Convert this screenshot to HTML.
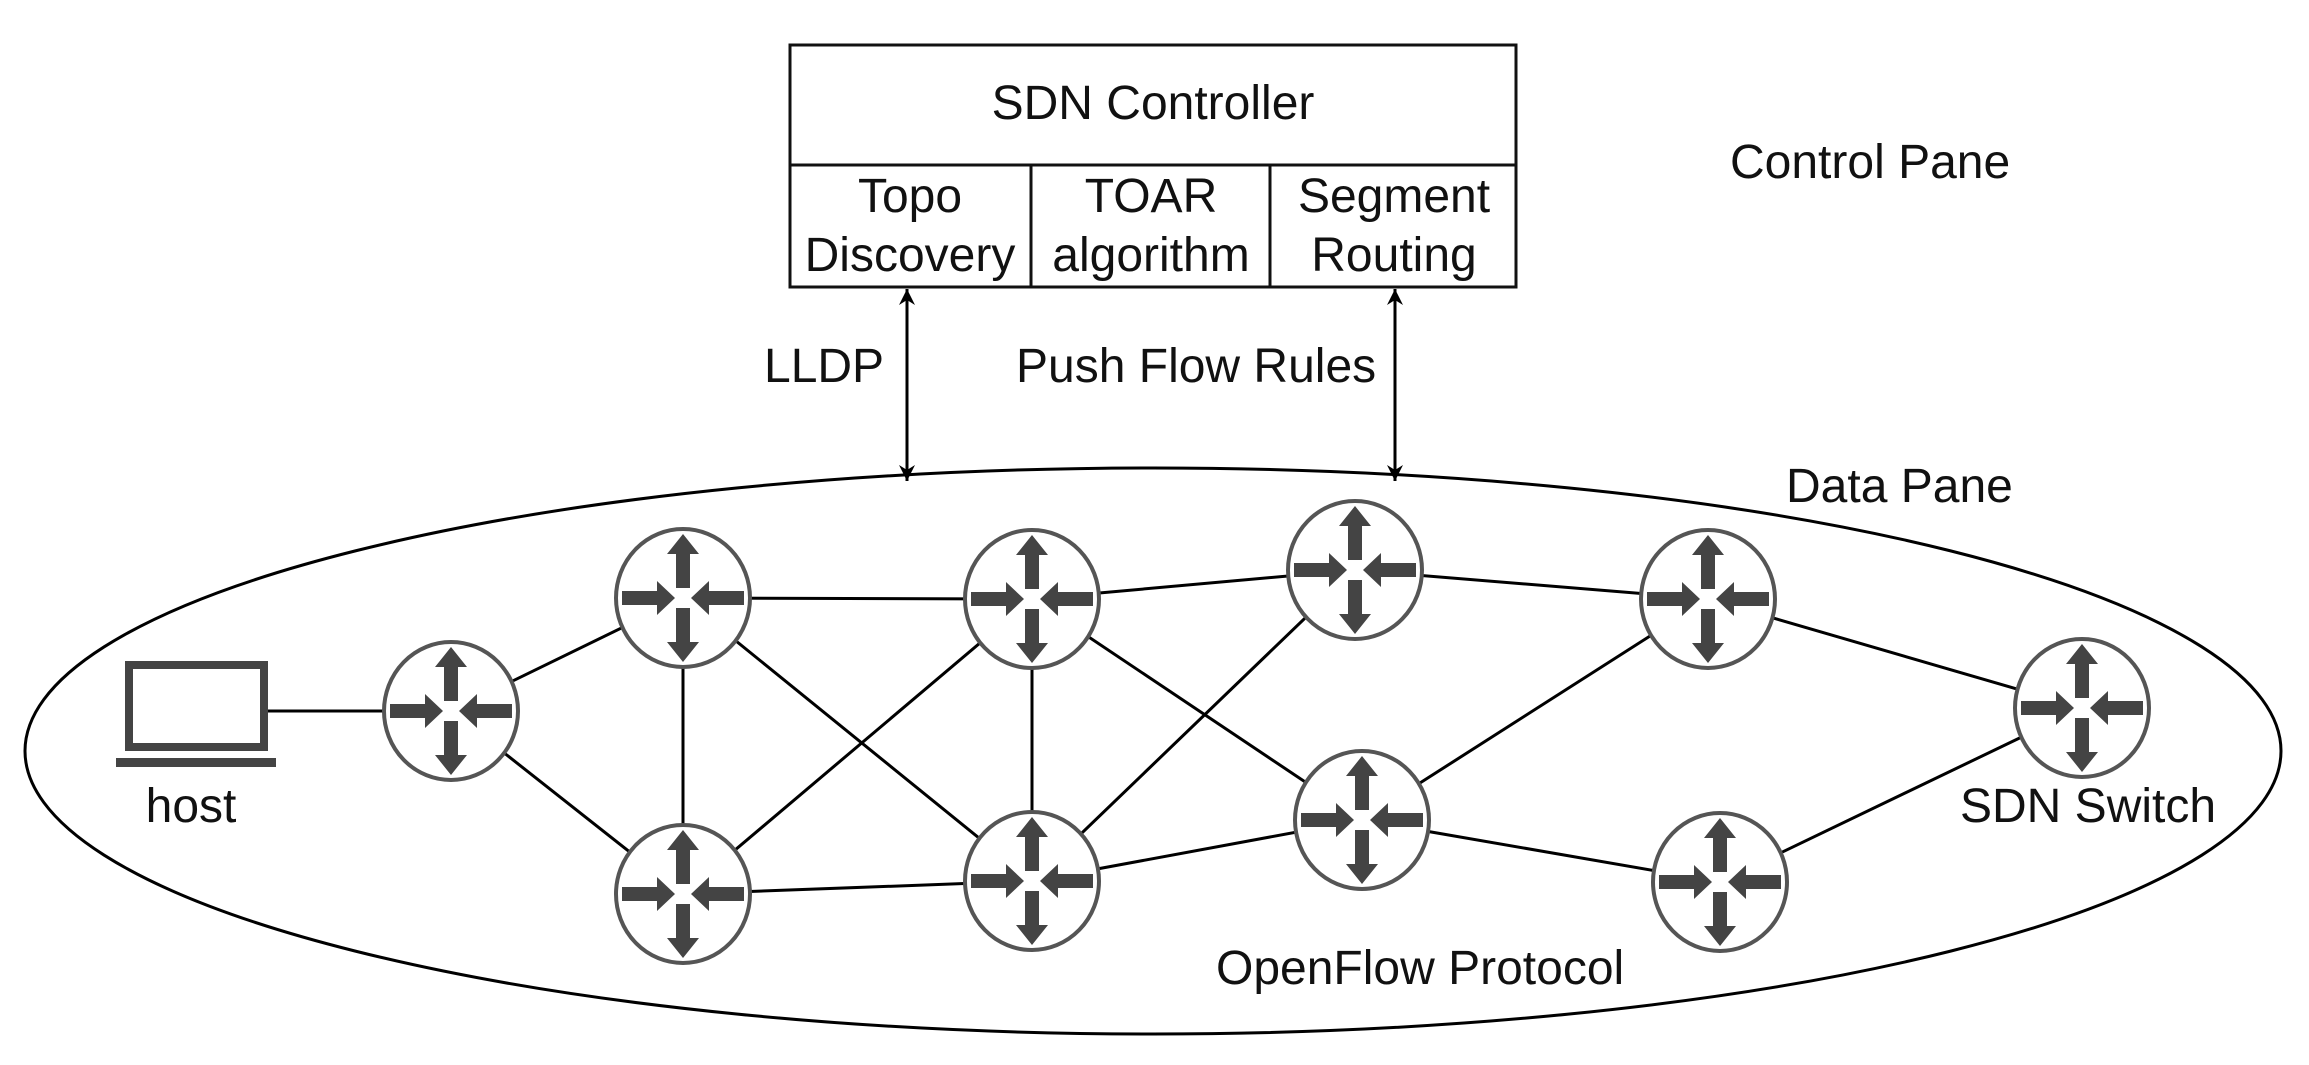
<!DOCTYPE html>
<html><head><meta charset="utf-8"><style>
html,body{margin:0;padding:0;background:#fff}
svg{display:block}
text{font-family:"Liberation Sans",sans-serif;font-size:48px;fill:#111}
</style></head><body>
<svg width="2309" height="1065" viewBox="0 0 2309 1065" xmlns="http://www.w3.org/2000/svg">
<defs>
<g id="r">
<ellipse cx="0" cy="0" rx="67" ry="69" fill="#fff" stroke="#555" stroke-width="4"/>
<g fill="#444">
<polygon points="-61,-7 -26,-7 -26,-17 -8,0 -26,17 -26,7 -61,7"/>
<polygon points="61,-7 26,-7 26,-17 8,0 26,17 26,7 61,7"/>
<polygon points="-7,-10 -7,-44 -16,-44 0,-64 16,-44 7,-44 7,-10"/>
<polygon points="-7,10 -7,44 -16,44 0,64 16,44 7,44 7,10"/>
</g>
</g>
<marker id="ah" markerWidth="18" markerHeight="16" refX="16" refY="8" orient="auto-start-reverse" markerUnits="userSpaceOnUse">
<path d="M0,0 L16,8 L0,16 L5,8 Z" fill="#000"/>
</marker>
</defs>
<rect x="790" y="45" width="726" height="242" fill="#fff" stroke="#111" stroke-width="3"/>
<line x1="790" y1="165" x2="1516" y2="165" stroke="#111" stroke-width="3"/>
<line x1="1031" y1="165" x2="1031" y2="287" stroke="#111" stroke-width="3"/>
<line x1="1270" y1="165" x2="1270" y2="287" stroke="#111" stroke-width="3"/>
<text x="1153" y="119" text-anchor="middle">SDN Controller</text>
<text x="910" y="212" text-anchor="middle">Topo</text>
<text x="910" y="271" text-anchor="middle">Discovery</text>
<text x="1151" y="212" text-anchor="middle">TOAR</text>
<text x="1151" y="271" text-anchor="middle">algorithm</text>
<text x="1394" y="212" text-anchor="middle">Segment</text>
<text x="1394" y="271" text-anchor="middle">Routing</text>
<text x="1730" y="178">Control Pane</text>
<text x="1786" y="502">Data Pane</text>
<text x="764" y="382">LLDP</text>
<text x="1016" y="382">Push Flow Rules</text>
<ellipse cx="1153" cy="751" rx="1128" ry="283" fill="none" stroke="#000" stroke-width="3"/>
<line x1="907" y1="289" x2="907" y2="481" stroke="#000" stroke-width="3" marker-start="url(#ah)" marker-end="url(#ah)"/>
<line x1="1395" y1="289" x2="1395" y2="481" stroke="#000" stroke-width="3" marker-start="url(#ah)" marker-end="url(#ah)"/>
<g stroke="#000" stroke-width="3">
<line x1="268" y1="711" x2="451" y2="711"/>
<line x1="451" y1="711" x2="683" y2="598"/>
<line x1="451" y1="711" x2="683" y2="894"/>
<line x1="683" y1="598" x2="1032" y2="599"/>
<line x1="683" y1="598" x2="683" y2="894"/>
<line x1="683" y1="598" x2="1032" y2="881"/>
<line x1="683" y1="894" x2="1032" y2="599"/>
<line x1="683" y1="894" x2="1032" y2="881"/>
<line x1="1032" y1="599" x2="1032" y2="881"/>
<line x1="1032" y1="599" x2="1355" y2="570"/>
<line x1="1032" y1="599" x2="1362" y2="820"/>
<line x1="1032" y1="881" x2="1355" y2="570"/>
<line x1="1032" y1="881" x2="1362" y2="820"/>
<line x1="1355" y1="570" x2="1708" y2="599"/>
<line x1="1362" y1="820" x2="1708" y2="599"/>
<line x1="1362" y1="820" x2="1720" y2="882"/>
<line x1="1708" y1="599" x2="2082" y2="708"/>
<line x1="1720" y1="882" x2="2082" y2="708"/>
</g>
<use href="#r" x="451" y="711"/>
<use href="#r" x="683" y="598"/>
<use href="#r" x="683" y="894"/>
<use href="#r" x="1032" y="599"/>
<use href="#r" x="1032" y="881"/>
<use href="#r" x="1355" y="570"/>
<use href="#r" x="1362" y="820"/>
<use href="#r" x="1708" y="599"/>
<use href="#r" x="1720" y="882"/>
<use href="#r" x="2082" y="708"/>
<rect x="129" y="665" width="135" height="82" fill="#fff" stroke="#444" stroke-width="8"/>
<rect x="116" y="758" width="160" height="9" fill="#444"/>
<text x="191" y="822" text-anchor="middle">host</text>
<text x="1960" y="822">SDN Switch</text>
<text x="1216" y="984">OpenFlow Protocol</text>
</svg>
</body></html>
